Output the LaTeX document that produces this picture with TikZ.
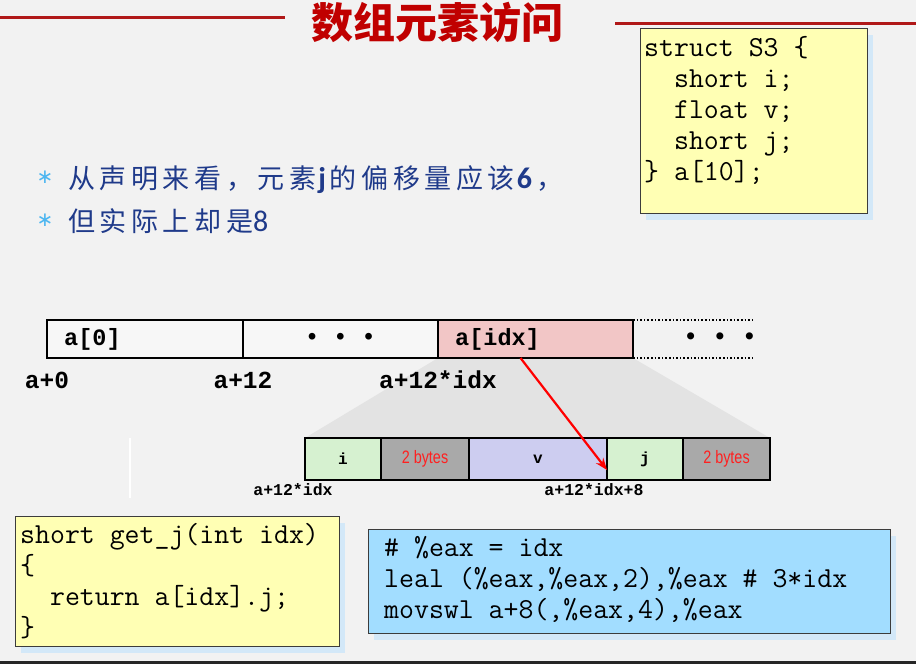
\documentclass[tikz,border=0pt]{standalone}
\usepackage{fontspec}
\setmonofont{Liberation Mono}
\newfontfamily\codefont{Latin Modern Mono}
\newfontfamily\cjk{Noto Sans CJK SC}
\newfontfamily\cjkwide{Noto Sans CJK SC}[LetterSpace=17]
\newfontfamily\numfont{Carlito}
\newfontfamily\narrowfont{Liberation Sans}[FakeStretch=0.8]
\newfontfamily\symfont{DejaVu Sans}
\usetikzlibrary{arrows.meta}
\usetikzlibrary{positioning}
\usetikzlibrary{shadows}
\usetikzlibrary{backgrounds}

\definecolor{slidebg}{HTML}{F2F2F2}
\definecolor{titlered}{HTML}{C00000}
\definecolor{rulered}{HTML}{B01818}
\definecolor{notepaper}{HTML}{FFFFB4}
\definecolor{asmblue}{HTML}{A2DDFF}
\definecolor{shadowblue}{HTML}{D3E8F8}
\definecolor{boxedge}{HTML}{3C3C3C}
\definecolor{elempink}{HTML}{F2C6C6}
\definecolor{shortgreen}{HTML}{D6F1D0}
\definecolor{padgray}{HTML}{A9A9A9}
\definecolor{floatlilac}{HTML}{CDCDF0}
\definecolor{zoomgray}{HTML}{E3E3E3}
\definecolor{textblue}{HTML}{1F3A8A}
\definecolor{starblue}{HTML}{4DB6F0}
\definecolor{bytered}{HTML}{FF2020}

\newcommand{\numhl}[1]{{\numfont\bfseries\fontsize{30}{30}\selectfont\hspace{2pt}#1\hspace{4pt}}}
\newcommand{\numrg}[1]{{\numfont\fontsize{30}{30}\selectfont #1}}

\tikzset{
  titlerule/.style={rulered, line width=3pt},
  memcell/.style={draw, line width=1.6pt, minimum width=#1, minimum height=38pt, outer sep=0pt,
    inner sep=0pt, fill=white!40!slidebg, font=\ttfamily\bfseries\fontsize{23.5}{23.5}\selectfont},
  memcell/.default=195pt,
  celltext/.style={anchor=west, inner sep=0pt, font=\ttfamily\bfseries\fontsize{23.5}{23.5}\selectfont},
  addr/.style={inner sep=0pt, font=\ttfamily\bfseries\fontsize{24.5}{24.5}\selectfont},
  fieldcell/.style={draw, line width=2.2pt, minimum width=#1, minimum height=42pt, outer sep=0pt,
    inner sep=0pt, font=\ttfamily\bfseries\fontsize{16}{16}\selectfont},
  padcell/.style={fieldcell=#1, fill=padgray, text=bytered, font=\narrowfont\fontsize{18}{18}\selectfont},
  smalladdr/.style={inner sep=0pt, font=\ttfamily\bfseries\fontsize{16.5}{16.5}\selectfont},
  codebox/.style={draw=boxedge, line width=1.2pt, anchor=north west, inner sep=0pt,
    drop shadow={shadow xshift=5pt, shadow yshift=-6pt, fill=shadowblue, opacity=1}},
  codetext/.style={anchor=north west, inner sep=0pt, align=left, font=\codefont\fontsize{29}{31}\selectfont},
  star/.style={inner sep=0pt, text=starblue, font=\symfont\fontsize{20}{20}\selectfont},
  point/.style={anchor=base west, inner sep=0pt, text=textblue, font=\cjkwide\fontsize{27}{27}\selectfont},
  pointer/.style={-{Stealth[length=12pt,width=9pt]}, red, line width=2.2pt},
}

\begin{document}
\begin{tikzpicture}[x=1pt, y=-1pt]
  \useasboundingbox (0,0) rectangle (916,664);

  % title
  \node[font=\cjk\bfseries\fontsize{42}{42}\selectfont, text=titlered] (title) at (437,22) {数组元素访问};
  \draw[titlerule] (0,17) -- (285,17);
  \draw[titlerule] (615,23) -- (916,23);

  % struct declaration
  \node[codebox, fill=notepaper, minimum width=227pt, minimum height=185pt] (s3box) at (640,28) {};
  \node[codetext] (s3code) at (644,34.3) {\strut struct S3 \{\\\ \ short i;\\\ \ float v;\\\ \ short j;\\\} a[10];};

  % remarks
  \node[star] (star1) at (45,177) {∗};
  \node[point] (point1) at (68,188) {从声明来看，元素\numhl{j}的偏移量应该\numhl{6}，};
  \node[star] (star2) at (45,220) {∗};
  \node[point] (point2) at (68,231) {但实际上却是\numrg{8}};

  % array a[10]
  \node[memcell=196pt, anchor=north west] (a0) at (47,320) {};
  \node[memcell, right=0pt of a0] (amid) {• • •};
  \node[memcell, right=0pt of amid, fill=elempink] (aidx) {};
  \node[celltext] (a0txt) at ([xshift=17pt]a0.west) {a[0]};
  \node[celltext] (aidxtxt) at ([xshift=17pt]aidx.west) {a[idx]};
  \coordinate (topend) at (755,320);
  \coordinate (botend) at (755,358);
  \draw[dotted, line width=1.6pt] (aidx.north east) -- (topend);
  \draw[dotted, line width=1.6pt] (aidx.south east) -- (botend);
  \node[addr] (moredots) at (720,339) {• • •};

  \node[addr] (off0) at ([yshift=-22pt]a0.south west) {a+0};
  \node[addr] (off12) at ([yshift=-22pt]amid.south west) {a+12};
  \node[addr] (offidx) at ([yshift=-22pt]aidx.south west) {a+12*idx};

  % layout of one element
  \node[fieldcell=76pt, fill=shortgreen, anchor=north west] (fi) at (305,438) {i};
  \node[padcell=88pt, right=0pt of fi] (pad1) {2 bytes};
  \node[fieldcell=138pt, fill=floatlilac, right=0pt of pad1] (fv) {v};
  \node[fieldcell=76pt, fill=shortgreen, right=0pt of fv] (fj) {j};
  \node[padcell=87pt, right=0pt of fj] (pad2) {2 bytes};
  \node[smalladdr] (offi) at ([shift={(-12pt,-10pt)}]fi.south west) {a+12*idx};
  \node[smalladdr] (offj) at ([shift={(-13pt,-10pt)}]fj.south west) {a+12*idx+8};
  \draw[white, line width=1.5pt] (130,438) -- (130,498);

  \draw[pointer] ([xshift=-15pt]aidx.south) -- ([yshift=10pt]fj.south west);

  % C code and assembly
  \node[codebox, fill=notepaper, minimum width=324pt, minimum height=130pt] (cbox) at (15,516) {};
  \node[codetext] (ccode) at (20,521.3) {\strut short get\_j(int idx)\\\{\\\ \ return a[idx].j;\\\}};
  \node[codebox, fill=asmblue, minimum width=522pt, minimum height=104pt] (asmbox) at (368,529) {};
  \node[codetext] (asmcode) at (384,534.3) {\strut \# \%eax = idx\\leal (\%eax,\%eax,2),\%eax \# 3*idx\\movswl a+8(,\%eax,4),\%eax};

  \fill[black!85] (0,661) rectangle (916,664);

  \begin{scope}[on background layer]
    \fill[slidebg] (0,0) rectangle (916,664);
    \fill[zoomgray] (aidx.south west) -- (aidx.south east) -- (pad2.north east) -- (fi.north west) -- cycle;
  \end{scope}
\end{tikzpicture}
\end{document}
